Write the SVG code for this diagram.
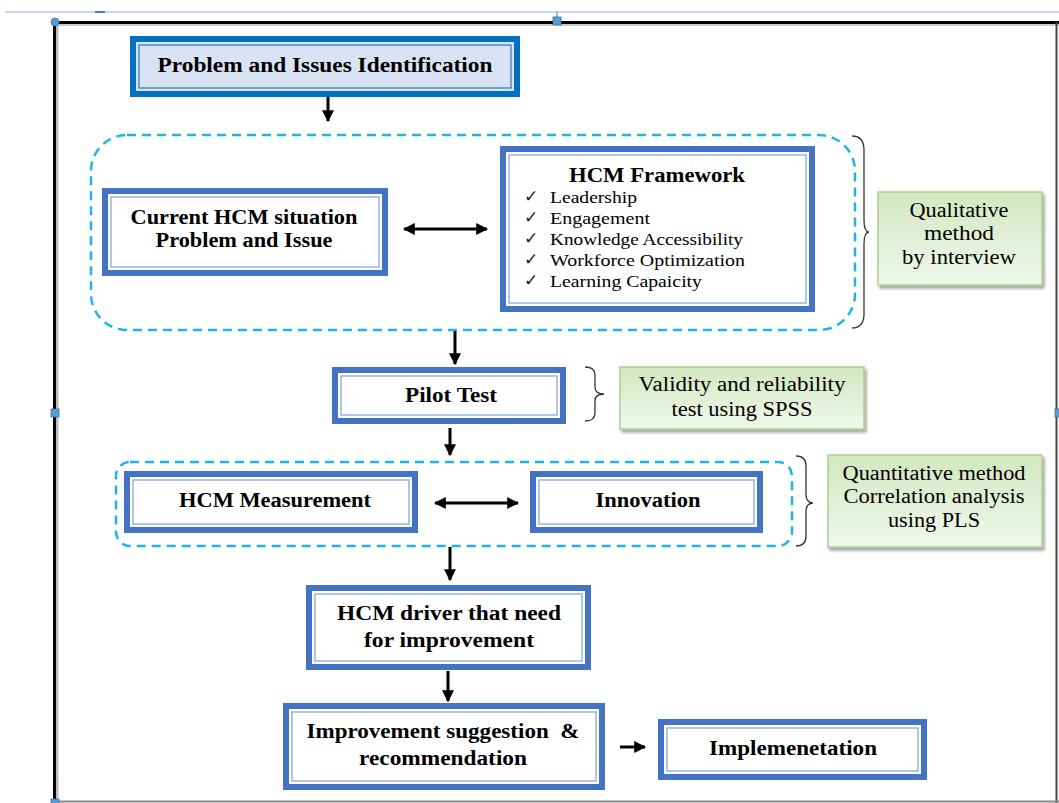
<svg xmlns="http://www.w3.org/2000/svg" width="1059" height="803" viewBox="0 0 1059 803">
<defs>
<linearGradient id="gg" x1="0" y1="0" x2="0" y2="1">
<stop offset="0" stop-color="#d2e7bf"/>
<stop offset="1" stop-color="#f1f8ec"/>
</linearGradient>
<marker id="ah" viewBox="0 0 10 10" refX="9" refY="5" markerWidth="4" markerHeight="4" orient="auto-start-reverse">
<path d="M0,0 L10,5 L0,10 z" fill="#000"/>
</marker>
<filter id="sh" x="-10%" y="-10%" width="130%" height="130%">
<feDropShadow dx="2" dy="3" stdDeviation="1.5" flood-color="#000" flood-opacity="0.35"/>
</filter>
</defs>
<style>
.ob{fill:#fff;stroke:#4472c4;stroke-width:6}
.ib{fill:none;stroke:#7f9fdc;stroke-width:1.2}
.t{font-family:"Liberation Serif",serif;font-weight:bold;font-size:20.5px;fill:#000;text-anchor:middle}
.r{font-family:"Liberation Serif",serif;font-size:17.5px;fill:#000}
.ck{font-family:"Liberation Serif",serif;font-size:17px;fill:#222}
.g{font-family:"Liberation Serif",serif;font-size:20px;fill:#000;text-anchor:middle}
.gb{fill:url(#gg);stroke:#a9d18e;stroke-width:1.5;filter:url(#sh)}
.dash{fill:none;stroke:#1fb4e8;stroke-width:2.5;stroke-dasharray:9 6}
.c{stroke:#000;stroke-width:3;fill:none;marker-end:url(#ah)}
.cc{stroke:#000;stroke-width:3;fill:none;marker-end:url(#ah);marker-start:url(#ah)}
.br{fill:none;stroke:#333;stroke-width:1.3}
.h{fill:#5b9bd5;stroke:#41719c;stroke-width:0.8}
</style>
<rect width="1059" height="803" fill="#fff"/>
<g id="frame">
<line x1="5" y1="12" x2="1059" y2="12" stroke="#8eb4e3" stroke-width="1.2"/>
<line x1="95" y1="12" x2="105" y2="12" stroke="#4a7fc0" stroke-width="2"/>
<line x1="57" y1="24" x2="57" y2="802" stroke="#bbb" stroke-width="3"/>
<line x1="54.5" y1="22" x2="54.5" y2="802" stroke="#000" stroke-width="3"/>
<line x1="54" y1="22.5" x2="1059" y2="22.5" stroke="#000" stroke-width="3"/>
<line x1="54" y1="25" x2="1059" y2="25" stroke="#bbb" stroke-width="1.5"/>
<line x1="1056.5" y1="22" x2="1056.5" y2="803" stroke="#444" stroke-width="2"/>
<line x1="54" y1="801.5" x2="1059" y2="801.5" stroke="#888" stroke-width="2"/>
<circle class="h" cx="55" cy="22" r="4"/>
<rect class="h" x="553" y="17" width="8" height="8"/>
<line x1="557" y1="12" x2="557" y2="17" stroke="#4a7fc0" stroke-width="1"/>
<rect class="h" x="51" y="409" width="8" height="8"/>
<rect class="h" x="1055" y="409" width="8" height="8"/>
<rect class="h" x="51" y="799" width="8" height="8"/>
</g>
<g id="group1"><rect class="dash" x="91" y="135" width="764" height="195" rx="36"/></g>
<g id="group2"><rect class="dash" x="116" y="462" width="676" height="84" rx="14"/></g>
<g id="connectors">
<line class="c" x1="328" y1="97" x2="328" y2="121"/>
<line class="cc" x1="404" y1="229" x2="487" y2="229"/>
<line class="c" x1="455" y1="331" x2="455" y2="364"/>
<line class="c" x1="450" y1="428" x2="450" y2="455"/>
<line class="cc" x1="435" y1="503" x2="518" y2="503"/>
<line class="c" x1="450" y1="547" x2="450" y2="580"/>
<line class="c" x1="448" y1="671" x2="448" y2="701"/>
<line class="c" x1="620" y1="747" x2="645" y2="747"/>
<path class="br" d="M852,136 Q864,136 864,150 L864,220 Q864,232 869,232 Q864,232 864,244 L864,314 Q864,328 852,328"/>
<path class="br" d="M585,367 Q595,367 595,375 L595,387 Q595,394 604,394 Q595,394 595,401 L595,413 Q595,421 585,421"/>
<path class="br" d="M796,456 Q806,456 806,466 L806,494 Q806,503 813,503 Q806,503 806,512 L806,536 Q806,546 796,546"/>
</g>
<g id="n-problem">
<rect x="133" y="39" width="384" height="55" fill="#dae3f3" stroke="#0070c0" stroke-width="6"/>
<rect x="139" y="45" width="372" height="43" fill="none" stroke="#2e75b6" stroke-width="1.2"/>
<text class="t" x="325" y="72" textLength="335" lengthAdjust="spacingAndGlyphs">Problem and Issues Identification</text>
</g>
<g id="n-current">
<rect class="ob" x="105" y="191" width="280" height="82"/>
<rect class="ib" x="111" y="197" width="268" height="70"/>
<text class="t" x="244" y="224" textLength="227" lengthAdjust="spacingAndGlyphs">Current HCM situation</text>
<text class="t" x="244" y="247" textLength="177" lengthAdjust="spacingAndGlyphs">Problem and Issue</text>
</g>
<g id="n-framework">
<rect class="ob" x="503" y="149" width="309" height="160"/>
<rect class="ib" x="509" y="155" width="297" height="148"/>
<text class="t" x="657" y="182" textLength="176" lengthAdjust="spacingAndGlyphs">HCM Framework</text>
<text class="ck" x="524" y="202">✓</text><text class="r" x="550" y="203" textLength="87" lengthAdjust="spacingAndGlyphs">Leadership</text>
<text class="ck" x="524" y="223">✓</text><text class="r" x="550" y="224" textLength="100" lengthAdjust="spacingAndGlyphs">Engagement</text>
<text class="ck" x="524" y="244">✓</text><text class="r" x="550" y="245" textLength="193" lengthAdjust="spacingAndGlyphs">Knowledge Accessibility</text>
<text class="ck" x="524" y="265">✓</text><text class="r" x="550" y="266" textLength="195" lengthAdjust="spacingAndGlyphs">Workforce Optimization</text>
<text class="ck" x="524" y="286">✓</text><text class="r" x="550" y="287" textLength="152" lengthAdjust="spacingAndGlyphs">Learning Capaicity</text>
</g>
<g id="n-qual">
<rect class="gb" x="878" y="192" width="164" height="93"/>
<text class="g" x="959" y="217" textLength="99" lengthAdjust="spacingAndGlyphs">Qualitative</text>
<text class="g" x="959" y="240" textLength="70" lengthAdjust="spacingAndGlyphs">method</text>
<text class="g" x="959" y="264" textLength="114" lengthAdjust="spacingAndGlyphs">by interview</text>
</g>
<g id="n-pilot">
<rect class="ob" x="335" y="370" width="228" height="51"/>
<rect class="ib" x="341" y="376" width="216" height="39"/>
<text class="t" x="451" y="402" textLength="92" lengthAdjust="spacingAndGlyphs">Pilot Test</text>
</g>
<g id="n-valid">
<rect class="gb" x="620" y="367" width="244" height="62"/>
<text class="g" x="742" y="391" textLength="207" lengthAdjust="spacingAndGlyphs">Validity and reliability</text>
<text class="g" x="742" y="416" textLength="141" lengthAdjust="spacingAndGlyphs">test using SPSS</text>
</g>
<g id="n-measure">
<rect class="ob" x="127" y="474" width="288" height="56"/>
<rect class="ib" x="133" y="480" width="276" height="44"/>
<text class="t" x="275" y="507" textLength="192" lengthAdjust="spacingAndGlyphs">HCM Measurement</text>
</g>
<g id="n-innov">
<rect class="ob" x="533" y="474" width="227" height="56"/>
<rect class="ib" x="539" y="480" width="215" height="44"/>
<text class="t" x="648" y="507" textLength="105" lengthAdjust="spacingAndGlyphs">Innovation</text>
</g>
<g id="n-quant">
<rect class="gb" x="828" y="455" width="214" height="92"/>
<text class="g" x="934" y="480" textLength="183" lengthAdjust="spacingAndGlyphs">Quantitative method</text>
<text class="g" x="934" y="503" textLength="181" lengthAdjust="spacingAndGlyphs">Correlation analysis</text>
<text class="g" x="934" y="527" textLength="92" lengthAdjust="spacingAndGlyphs">using PLS</text>
</g>
<g id="n-driver">
<rect class="ob" x="309" y="588" width="279" height="79"/>
<rect class="ib" x="315" y="594" width="267" height="67"/>
<text class="t" x="449" y="620" textLength="224" lengthAdjust="spacingAndGlyphs">HCM driver that need</text>
<text class="t" x="449" y="647" textLength="170" lengthAdjust="spacingAndGlyphs">for improvement</text>
</g>
<g id="n-improve">
<rect class="ob" x="286" y="706" width="316" height="81"/>
<rect class="ib" x="292" y="712" width="304" height="69"/>
<text class="t" x="443" y="738" textLength="273" lengthAdjust="spacingAndGlyphs" xml:space="preserve">Improvement suggestion  &amp;</text>
<text class="t" x="443" y="765" textLength="168" lengthAdjust="spacingAndGlyphs">recommendation</text>
</g>
<g id="n-impl">
<rect class="ob" x="661" y="722" width="263" height="55"/>
<rect class="ib" x="667" y="728" width="251" height="43"/>
<text class="t" x="793" y="755" textLength="168" lengthAdjust="spacingAndGlyphs">Implemenetation</text>
</g>
</svg>
